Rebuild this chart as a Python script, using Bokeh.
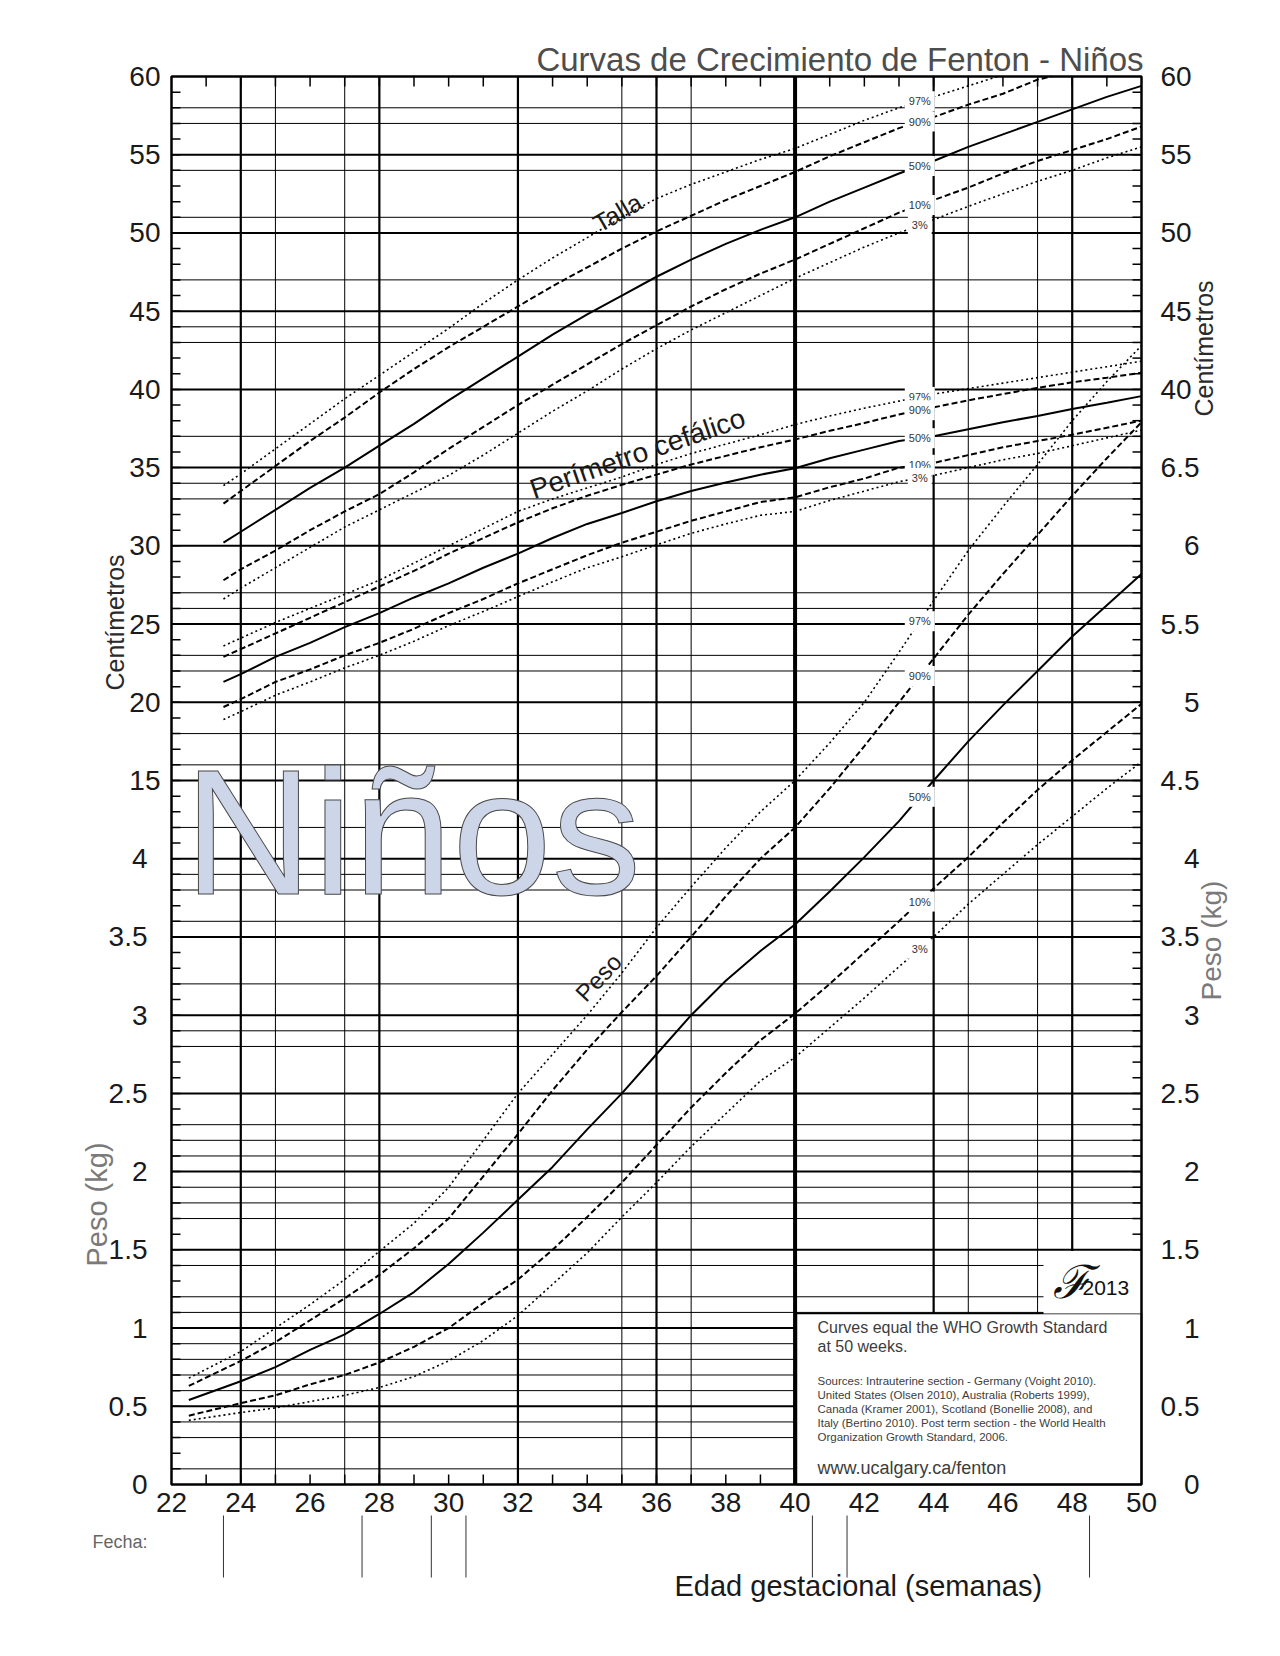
import numpy as np
from bokeh.plotting import figure
from bokeh.models import Range1d, Label
from bokeh.core.properties import value
from bokeh.embed import file_html
from bokeh.resources import INLINE

# ---------------- data ----------------
weeks_weight = [22.5, 24, 25, 26, 27, 28, 29, 30, 31, 32, 33, 34, 35, 36,
                37, 38, 39, 40, 41, 42, 43, 44, 45, 46, 47, 48, 49, 50]
weight_p97 = [0.68, 0.85, 1.00, 1.15, 1.31, 1.49, 1.67, 1.90, 2.20, 2.50, 2.75, 3.00, 3.27, 3.56,
              3.82, 4.07, 4.30, 4.50, 4.74, 5.00, 5.32, 5.65, 5.97, 6.25, 6.52, 6.80, 7.05, 7.28]
weight_p90 = [0.63, 0.79, 0.91, 1.05, 1.19, 1.34, 1.51, 1.70, 1.97, 2.24, 2.52, 2.78, 3.02, 3.25,
              3.50, 3.76, 4.00, 4.20, 4.45, 4.72, 5.00, 5.28, 5.56, 5.82, 6.07, 6.32, 6.56, 6.79]
weight_p50 = [0.54, 0.66, 0.75, 0.86, 0.96, 1.09, 1.23, 1.41, 1.61, 1.82, 2.03, 2.27, 2.50, 2.75,
              3.00, 3.22, 3.41, 3.58, 3.79, 4.01, 4.24, 4.50, 4.75, 4.98, 5.20, 5.42, 5.62, 5.82]
weight_p10 = [0.44, 0.52, 0.57, 0.64, 0.70, 0.78, 0.88, 1.00, 1.16, 1.31, 1.50, 1.71, 1.93, 2.17,
              2.41, 2.63, 2.84, 3.01, 3.20, 3.40, 3.60, 3.81, 4.01, 4.23, 4.44, 4.63, 4.81, 4.99]
weight_p3 = [0.41, 0.46, 0.49, 0.53, 0.57, 0.62, 0.69, 0.79, 0.92, 1.08, 1.28, 1.48, 1.71, 1.93,
             2.16, 2.37, 2.58, 2.73, 2.92, 3.11, 3.31, 3.50, 3.71, 3.90, 4.09, 4.27, 4.45, 4.62]

weeks_cm = [23.5, 24, 25, 26, 27, 28, 29, 30, 31, 32, 33, 34, 35, 36,
            37, 38, 39, 40, 41, 42, 43, 44, 45, 46, 47, 48, 49, 50]
nan = float("nan")
length_p97 = [33.85, 34.6, 36.2, 37.8, 39.4, 40.9, 42.4, 43.9, 45.5, 47.0, 48.4, 49.7, 51.0, 52.2,
              53.1, 53.9, 54.7, 55.4, 56.3, 57.2, 58.0, 58.7, 59.4, 60.1, nan, nan, nan, nan]
length_p90 = [32.7, 33.5, 35.1, 36.7, 38.2, 39.8, 41.3, 42.7, 44.0, 45.3, 46.6, 47.8, 49.0, 50.1,
              51.1, 52.1, 53.0, 53.9, 54.9, 55.8, 56.7, 57.4, 58.2, 58.9, 59.8, 60.3, nan, nan]
length_p50 = [30.2, 30.9, 32.3, 33.7, 35.0, 36.4, 37.8, 39.3, 40.7, 42.1, 43.5, 44.8, 46.0, 47.2,
              48.3, 49.3, 50.2, 51.0, 52.0, 52.9, 53.8, 54.6, 55.5, 56.3, 57.1, 57.9, 58.7, 59.4]
length_p10 = [27.8, 28.5, 29.7, 31.0, 32.2, 33.3, 34.7, 36.2, 37.6, 39.0, 40.3, 41.6, 42.9, 44.1,
              45.3, 46.4, 47.4, 48.3, 49.3, 50.3, 51.3, 52.1, 52.9, 53.8, 54.6, 55.3, 56.0, 56.8]
length_p3 = [26.6, 27.3, 28.6, 29.9, 31.2, 32.3, 33.4, 34.5, 35.8, 37.2, 38.6, 39.9, 41.3, 42.6,
             43.8, 44.9, 46.0, 47.1, 48.1, 49.1, 50.0, 50.85, 51.7, 52.5, 53.3, 54.0, 54.8, 55.5]

head_p97 = [23.6, 24.1, 25.1, 26.0, 26.9, 27.8, 28.9, 30.0, 31.1, 32.2, 33.0, 33.7, 34.4, 35.2,
            35.9, 36.5, 37.1, 37.75, 38.3, 38.8, 39.25, 39.7, 40.05, 40.4, 40.75, 41.1, 41.45, 41.8]
head_p90 = [22.9, 23.4, 24.4, 25.4, 26.4, 27.4, 28.4, 29.5, 30.5, 31.5, 32.4, 33.2, 33.9, 34.55,
            35.2, 35.75, 36.3, 36.8, 37.35, 37.85, 38.4, 38.85, 39.3, 39.7, 40.1, 40.45, 40.75, 41.06]
head_p50 = [21.3, 21.8, 22.9, 23.8, 24.8, 25.7, 26.7, 27.6, 28.6, 29.5, 30.5, 31.4, 32.1, 32.85,
            33.5, 34.05, 34.55, 34.96, 35.6, 36.15, 36.7, 37.0, 37.45, 37.9, 38.3, 38.75, 39.15, 39.57]
head_p10 = [19.7, 20.2, 21.3, 22.1, 23.0, 23.8, 24.7, 25.7, 26.6, 27.6, 28.5, 29.4, 30.2, 30.9,
            31.6, 32.2, 32.8, 33.1, 33.75, 34.3, 35.0, 35.3, 35.8, 36.3, 36.7, 37.1, 37.55, 38.0]
head_p3 = [18.9, 19.4, 20.45, 21.3, 22.2, 23.0, 23.9, 24.9, 25.8, 26.75, 27.7, 28.6, 29.3, 30.06,
           30.8, 31.4, 31.95, 32.2, 32.9, 33.5, 34.1, 34.5, 35.0, 35.5, 35.9, 36.4, 36.9, 37.4]

percentiles = [97, 90, 50, 10, 3]
fecha_weeks = [23.5, 27.5, 29.5, 30.5, 40.5, 41.5, 48.5]
x_ticks = list(range(22, 51, 2))
x_tick_labels = [str(w) for w in x_ticks]
left_tick_labels = ["0", "0.5", "1", "1.5", "2", "2.5", "3", "3.5", "4",
                    "15", "20", "25", "30", "35", "40", "45", "50", "55", "60"]
right_tick_labels = ["0", "0.5", "1", "1.5", "2", "2.5", "3", "3.5", "4",
                     "4.5", "5", "5.5", "6", "6.5", "40", "45", "50", "55", "60"]

# ---------------- scale helpers ----------------
def kg_u(v):
    return 2.0 * np.asarray(v, dtype=float)

def cm_u(v):
    return np.asarray(v, dtype=float) / 5.0 + 6.0

W, H = 1280, 1656
FX0, FX1, FY0, FY1 = 171, 1141, 76, 1484       # chart rectangle in pixels
XS = (FX1 - FX0) / 28.0
YS = (FY1 - FY0) / 18.0
TOP_U = 18.0

def wx(px):
    return 22 + (px - FX0) / XS

def uy(py):
    return (FY1 - py) / YS

def clip_top(weeks, u):
    """Keep a curve inside the chart: stop it where it meets the top border."""
    xs, ys = [], []
    for i, (w, v) in enumerate(zip(weeks, u)):
        if not np.isfinite(v):
            break
        if v > TOP_U:
            if i > 0:
                w0, v0 = weeks[i - 1], u[i - 1]
                xs.append(w0 + (TOP_U - v0) / (v - v0) * (w - w0))
                ys.append(TOP_U)
            break
        xs.append(w)
        ys.append(float(v))
    return xs, ys

FONT = "Liberation Sans"

p = figure(width=W, height=H, x_range=Range1d(wx(0), wx(W)), y_range=Range1d(uy(H), uy(0)),
           output_backend="svg", toolbar_location=None,
           x_axis_type=None, y_axis_type=None,
           min_border_left=0, min_border_right=0, min_border_top=0, min_border_bottom=0)
p.outline_line_color = None
p.background_fill_color = "white"
p.border_fill_color = "white"
p.grid.visible = False

# ---------------- grid lines ----------------
def vlines(weeks, width):
    n = len(weeks)
    p.segment(x0=weeks, y0=[0] * n, x1=weeks, y1=[18] * n, line_color="black", line_width=width)

def hlines(us, width):
    n = len(us)
    p.segment(x0=[22] * n, y0=us, x1=[50] * n, y1=us, line_color="black", line_width=width)

minor_lines = [0.2, 0.6, 0.8, 1.2, 1.4, 1.6, 1.8, 2.2, 2.4, 2.8, 3.4, 3.6, 3.8,
               4.2, 4.4, 4.6, 5.6, 5.8, 6.4, 7.2, 7.6, 7.8, 8.4, 9.2, 9.6, 10.4, 10.6,
               11.2, 11.4, 12.6, 12.8, 13.4, 14.6, 14.8, 15.4, 16.2, 16.8, 17.4, 17.6]
hlines(minor_lines, 1)
hlines(list(range(1, 18)), 2)
vlines([25, 27, 35, 37, 45, 47], 1)
vlines([24, 28, 32, 36, 44, 48], 2.2)
vlines([40], 4)

# ---------------- ticks ----------------
tick_u = [round(i * 0.2, 1) for i in range(1, 90)]
week_all = list(range(23, 50))
tl_x, tl_y = 9 / XS, 10 / YS
n = len(tick_u)
p.segment(x0=[22] * n, y0=tick_u, x1=[22 + tl_x] * n, y1=tick_u, line_color="black", line_width=1.5)
p.segment(x0=[50 - tl_x] * n, y0=tick_u, x1=[50] * n, y1=tick_u, line_color="black", line_width=1.5)
m = len(week_all)
p.segment(x0=week_all, y0=[0] * m, x1=week_all, y1=[tl_y] * m, line_color="black", line_width=1.5)
p.segment(x0=week_all, y0=[18 - tl_y] * m, x1=week_all, y1=[18] * m, line_color="black", line_width=1.5)
k = len(fecha_weeks)
p.segment(x0=fecha_weeks, y0=[uy(1515)] * k, x1=fecha_weeks, y1=[uy(1577)] * k,
          line_color="#333333", line_width=1)

# ---------------- boxes (notes / logo) ----------------
p.quad(left=wx(796), right=50, bottom=0, top=uy(1313),
       fill_color="white", line_color="black", line_width=1.5)
p.quad(left=wx(1043), right=50, bottom=uy(1313), top=2.985,
       fill_color="white", line_color=None)

# chart border
p.quad(left=22, right=50, bottom=0, top=18, fill_color=None, line_color="black", line_width=2.5)

# ---------------- curves ----------------
styles = {97: ("2 3", 1.6), 90: ("6 3", 2.0), 50: ("solid", 2.0),
          10: ("6 3", 2.0), 3: ("2 3", 1.6)}
groups = [
    (weeks_cm, [length_p97, length_p90, length_p50, length_p10, length_p3], cm_u),
    (weeks_cm, [head_p97, head_p90, head_p50, head_p10, head_p3], cm_u),
    (weeks_weight, [weight_p97, weight_p90, weight_p50, weight_p10, weight_p3], kg_u),
]
LABEL_WEEK = 43.6
pct_x, pct_y, pct_t = [], [], []
for weeks, series, conv in groups:
    for pct, vals in zip(percentiles, series):
        dash, lw = styles[pct]
        xs, ys = clip_top(weeks, conv(vals))
        p.line(x=xs, y=ys, line_color="black", line_width=lw, line_dash=dash)
        pct_x.append(LABEL_WEEK)
        pct_y.append(float(np.interp(LABEL_WEEK, xs, ys)))
        pct_t.append(f"{pct}%")

for x, y, t in zip(pct_x, pct_y, pct_t):
    p.add_layout(Label(x=x, y=y, text=t, text_font=FONT, text_font_size="11px",
                       text_color="#333333", text_align="center", text_baseline="middle",
                       background_fill_color="white", padding=4))

# ---------------- tick labels ----------------
ticks_u = list(range(19))
kg_part = ticks_u[:9]
cm_part = ticks_u[9:]
TL = dict(text_font=value(FONT), text_font_size="28px", text_color="#1a1a1a", text_baseline="middle")
p.text(x=[wx(147)] * 9, y=kg_part, text=left_tick_labels[:9], text_align="right", **TL)
p.text(x=[wx(160)] * 10, y=cm_part, text=left_tick_labels[9:], text_align="right", **TL)
p.text(x=[wx(1199)] * 14, y=ticks_u[:14], text=right_tick_labels[:14], text_align="right", **TL)
p.text(x=[wx(1160)] * 5, y=ticks_u[14:], text=right_tick_labels[14:], text_align="left", **TL)
p.text(x=x_ticks, y=[uy(1501.5)] * len(x_ticks), text=x_tick_labels, text_align="center", **TL)

# ---------------- texts ----------------
def lab(text, xpx, ypx, size, color="#1a1a1a", align="center", angle=0.0,
        font=FONT, style="normal", **kw):
    p.add_layout(Label(x=wx(xpx), y=uy(ypx), text=text, text_font=font,
                       text_font_size=f"{size}px", text_color=color, text_align=align,
                       text_baseline="middle", angle=angle, text_font_style=style, **kw))

lab("Curvas de Crecimiento de Fenton - Niños", 1143, 58.5, 33, color="#4d4d4d", align="right")
lab("Centímetros", 114, 622, 25, color="#2a2a2a", angle=np.pi / 2)
lab("Peso (kg)", 96, 1204, 29, color="#7a7a7a", angle=np.pi / 2)
lab("Centímetros", 1203, 348, 25, color="#2a2a2a", angle=np.pi / 2)
lab("Peso (kg)", 1211, 940, 28, color="#7a7a7a", angle=np.pi / 2)
lab("Edad gestacional (semanas)", 674, 1585, 29, align="left")
lab("Fecha:", 92, 1541.5, 18, color="#666666", align="left")

lab("Niños", 412, 831, 179, color="#cdd6e8", text_outline_color="#4a4a4a")
lab("Talla", 617, 212, 25, angle=np.radians(30))
lab("Perímetro cefálico", 637, 453, 28, angle=np.radians(19))
lab("Peso", 598, 977, 24, angle=np.radians(47))

lab("Curves equal the WHO Growth Standard", 817, 1326.5, 16, color="#3c3c3c", align="left")
lab("at 50 weeks.", 817, 1345.5, 16, color="#3c3c3c", align="left")
sources = ["Sources: Intrauterine section - Germany (Voight 2010).",
           "United States (Olsen 2010), Australia (Roberts 1999),",
           "Canada (Kramer 2001), Scotland (Bonellie 2008), and",
           "Italy (Bertino 2010). Post term section - the World Health",
           "Organization Growth Standard, 2006."]
for i, s in enumerate(sources):
    lab(s, 817, 1380.5 + 14 * i, 11.5, color="#3c3c3c", align="left")
lab("www.ucalgary.ca/fenton", 817, 1467, 18, color="#3c3c3c", align="left")
lab("ℱ", 1071, 1281, 46, color="#111111", font="DejaVu Serif", style="italic")
lab("2013", 1082, 1287.5, 21, color="#111111", align="left")

open("out.html", "w").write(file_html(p, INLINE))
